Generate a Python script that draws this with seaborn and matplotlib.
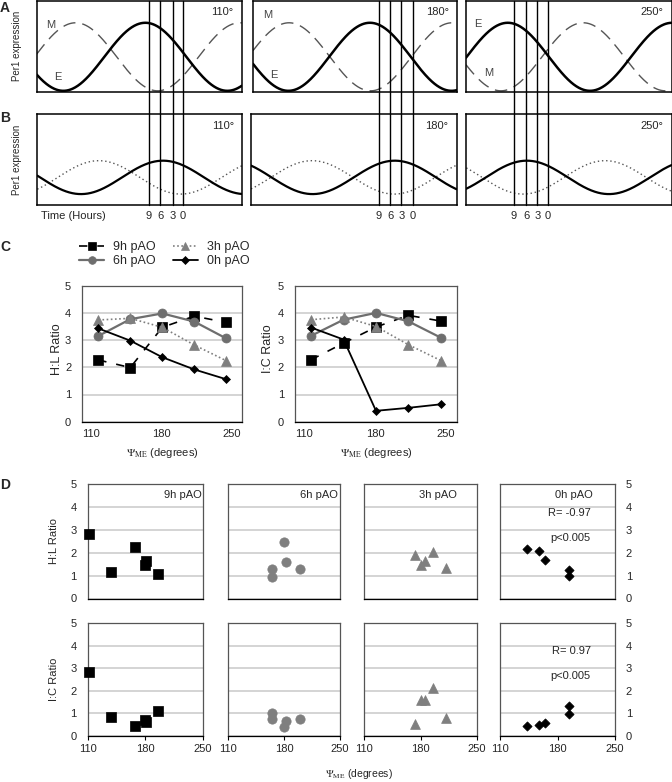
import numpy as np
import pandas as pd
import seaborn as sns
import matplotlib.pyplot as plt
from matplotlib.lines import Line2D

# ====== Data ======
# panels A/B: schematic Per1 rhythms (24 h period), peak times
PHASE_LABELS = ["110°", "180°", "250°"]
PERIOD_H = 24.0
E_PEAK_H = [15.9, 17.2, 6.1]
M_PEAK_H = [5.7, 5.3, 17.1]
B_SOLID_PEAK_H = [18.4, 21.0, 8.85]
B_DOTTED_PEAK_H = [9.0, 8.9, 20.3]
PAO_LINES_H = [[16.4, 18.1, 19.9, 21.4],
               [18.5, 20.2, 21.8, 23.5],
               [7.0, 8.8, 10.4, 11.9]]
PAO_TICK_LABELS = ["9", "6", "3", "0"]

# panel C: group means vs psi_ME
PSI_C = [117, 149, 181, 213, 245]
HL_9H = [2.27, 1.99, 3.47, 3.88, 3.65]
HL_6H = [3.15, 3.77, 3.98, 3.68, 3.06]
HL_3H = [3.74, 3.80, 3.47, 2.82, 2.24]
HL_0H = [3.43, 2.98, 2.37, 1.92, 1.56]
IC_9H = [2.28, 2.89, 3.48, 3.91, 3.70]
IC_6H = [3.16, 3.75, 4.00, 3.69, 3.09]
IC_3H = [3.75, 3.85, 3.50, 2.83, 2.25]
IC_0H = [3.46, 3.02, 0.40, 0.51, 0.64]
PAO_NAMES = ["9h pAO", "6h pAO", "3h pAO", "0h pAO"]

# panel D: individual animals
PSI_9H = [112, 139, 167, 180, 181, 195]
D_HL_9H = [2.81, 1.16, 2.23, 1.46, 1.65, 1.06]
D_IC_9H = [2.83, 0.85, 0.45, 0.68, 0.60, 1.08]
PSI_6H = [165, 165, 180, 183, 200]
D_HL_6H = [1.31, 0.95, 2.45, 1.59, 1.31]
D_IC_6H = [1.02, 0.73, 0.39, 0.65, 0.73]
PSI_3H = [173, 181, 185, 195, 211]
D_HL_3H = [1.92, 1.46, 1.63, 2.04, 1.32]
D_IC_3H = [0.52, 1.59, 1.59, 2.10, 0.77]
PSI_0H = [143, 158, 165, 194, 194]
D_HL_0H = [2.16, 2.08, 1.70, 1.26, 0.98]
D_IC_0H = [0.45, 0.47, 0.58, 1.32, 0.98]

# ====== Settings ======
W, H = 672, 782
DPI = 100
GRAY = "#7f7f7f"
GRID = "#d4d4d4"
FRAME = "#555555"

sns.set_theme(style="white")
plt.rcParams["font.family"] = ["Liberation Sans", "DejaVu Sans"]
plt.rcParams["mathtext.fontset"] = "stix"

fig = plt.figure(figsize=(W / DPI, H / DPI), dpi=DPI)


def fx(x):
    return x / W


def fy(y):
    return 1 - y / H


def add_ax(left, top, right, bottom):
    return fig.add_axes([fx(left), fy(bottom), (right - left) / W, (bottom - top) / H])


def cosine(t, peak, base, amp):
    return base + amp * np.cos(2 * np.pi * (t - peak) / PERIOD_H)


# ====== Panels A and B ======
t = np.linspace(0, 30, 400)
a_boxes = [(36.7, 241.7), (253, 457), (466, 671.5)]
b_boxes = [(37.3, 242.3), (251, 456.5), (466.3, 671.5)]
for i in range(3):
    axA = add_ax(a_boxes[i][0], 1, a_boxes[i][1], 91.5)
    sns.lineplot(x=t, y=cosine(t, M_PEAK_H[i], 0.5, 0.5), ax=axA, color="#555555",
                 lw=1.0, linestyle=(0, (9, 5)))
    sns.lineplot(x=t, y=cosine(t, E_PEAK_H[i], 0.5, 0.5), ax=axA, color="black", lw=1.8)
    axA.text(0.96, 0.93, PHASE_LABELS[i], transform=axA.transAxes, ha="right", va="top", fontsize=8)

    axB = add_ax(b_boxes[i][0], 114.3, b_boxes[i][1], 205)
    sns.lineplot(x=t, y=cosine(t, B_DOTTED_PEAK_H[i], 0.395, 0.245), ax=axB, color="#555555",
                 lw=1.0, linestyle=(0, (1, 2)))
    sns.lineplot(x=t, y=cosine(t, B_SOLID_PEAK_H[i], 0.395, 0.245), ax=axB, color="black", lw=1.6)
    axB.text(0.96, 0.93, PHASE_LABELS[i], transform=axB.transAxes, ha="right", va="top", fontsize=8)

    for ax in (axA, axB):
        ax.set_xlim(0, 30)
        ax.set_ylim(-0.01, 1.32)
        ax.set_xticks([])
        ax.set_yticks([])
        ax.set_xlabel("")
        ax.set_ylabel("")
        for s in ax.spines.values():
            s.set_color("black")
            s.set_linewidth(1.1)

    # vertical pAO lines running through A and B
    for h, lab in zip(PAO_LINES_H[i], PAO_TICK_LABELS):
        xd = axA.transData.transform((h, 0))[0]
        xf = fig.transFigure.inverted().transform((xd, 0))[0]
        fig.add_artist(Line2D([xf, xf], [fy(1), fy(205)], transform=fig.transFigure,
                              color="black", lw=1.0))
        fig.text(xf, fy(216), lab, ha="center", va="center", fontsize=8)

# E / M curve labels
for x, y, s in [(51, 25, "M"), (58, 77, "E"), (268, 15, "M"), (274, 75, "E"),
                (478, 24, "E"), (489, 73, "M")]:
    fig.text(fx(x), fy(y), s, ha="center", va="center", fontsize=8, color="#444444")

fig.text(fx(17), fy(46), "Per1 expression", rotation=90, ha="center", va="center", fontsize=7)
fig.text(fx(17), fy(160), "Per1 expression", rotation=90, ha="center", va="center", fontsize=7)
fig.text(fx(41), fy(216), "Time (Hours)", ha="left", va="center", fontsize=8)

for x, y, s in [(5, 8, "A"), (5, 118, "B"), (5, 247, "C"), (5, 485, "D")]:
    fig.text(fx(x), fy(y), s, ha="center", va="center", fontsize=10, fontweight="bold")

# ====== Panel C ======
styles = [
    dict(color="black", marker="s", markersize=6.5, linestyle=(0, (5, 6)), lw=1.2),
    dict(color="#6e6e6e", marker="o", markersize=6.5, linestyle="-", lw=1.6),
    dict(color=GRAY, marker="^", markersize=6.5, linestyle=(0, (1, 1.5)), lw=1.2),
    dict(color="black", marker="D", markersize=4.5, linestyle="-", lw=1.3),
]
c_series = [([HL_9H, HL_6H, HL_3H, HL_0H], "H:L Ratio", 82.3, 242.3, 57),
            ([IC_9H, IC_6H, IC_3H, IC_0H], "I:C Ratio", 295, 457, 268)]
handles = []
for series, ylab, left, right, ylab_x in c_series:
    ax = add_ax(left, 285.7, right, 421.7)
    for vals, name, st in zip(series, PAO_NAMES, styles):
        sns.lineplot(x=PSI_C, y=vals, ax=ax, label=name, markeredgecolor=st["color"],
                     markeredgewidth=0.5, **st)
    if ax.get_legend() is not None:
        if not handles:
            handles = ax.get_legend_handles_labels()
        ax.get_legend().remove()
    ax.set_xlim(101, 261)
    ax.set_ylim(0, 5)
    ax.set_xticks([110, 180, 250])
    ax.set_yticks([0, 1, 2, 3, 4, 5])
    ax.tick_params(length=0, labelsize=8, pad=5)
    ax.tick_params(axis="y", pad=8)
    ax.set_axisbelow(True)
    ax.yaxis.grid(True, color=GRID, lw=1.4)
    for s in ax.spines.values():
        s.set_color(FRAME)
        s.set_linewidth(0.9)
    ax.spines["bottom"].set_color("black")
    ax.set_xlabel("")
    ax.set_ylabel("")
    fig.text(fx(ylab_x), fy(349), ylab, rotation=90, ha="center", va="center", fontsize=9)
    fig.text(fx((left + right) / 2), fy(453), r"$\Psi_{\mathrm{ME}}$ (degrees)",
             ha="center", va="center", fontsize=8)

fig.legend(handles[0], handles[1], loc="upper left", bbox_to_anchor=(fx(79), fy(241)),
           ncol=2, frameon=False, fontsize=9, handlelength=2.0, handletextpad=0.7,
           columnspacing=1.4, labelspacing=0.2, borderpad=0, borderaxespad=0,
           markerscale=0.85)

# ====== Panel D ======
d_cols = [(87.5, 203), (228, 340), (364, 477), (500.2, 614.8)]
d_rows = [(484, 598.5), (623.3, 735.7)]
d_x = [PSI_9H, PSI_6H, PSI_3H, PSI_0H]
d_y = [[D_HL_9H, D_HL_6H, D_HL_3H, D_HL_0H], [D_IC_9H, D_IC_6H, D_IC_3H, D_IC_0H]]
d_marks = [("s", "black", 55), ("o", GRAY, 45), ("^", GRAY, 50), ("D", "black", 22)]
d_titles = [(0.985, "right"), (0.98, "right"), (0.65, "center"), (0.64, "center")]

for r, (top, bottom) in enumerate(d_rows):
    for c, (left, right) in enumerate(d_cols):
        ax = add_ax(left, top, right, bottom)
        m, col, size = d_marks[c]
        sns.scatterplot(x=d_x[c], y=d_y[r][c], ax=ax, marker=m, color=col, s=size,
                        edgecolor=col, linewidth=0.5, zorder=3, clip_on=False)
        ax.set_xlim(110, 250)
        ax.set_ylim(0, 5)
        ax.set_xticks([110, 180, 250])
        ax.set_yticks([0, 1, 2, 3, 4, 5])
        ax.set_axisbelow(True)
        ax.yaxis.grid(True, color=GRID, lw=1.4)
        for s in ax.spines.values():
            s.set_color(FRAME)
            s.set_linewidth(0.9)
        ax.spines["bottom"].set_color("black")
        ax.tick_params(axis="y", length=0, labelsize=8, pad=8,
                       labelleft=(c == 0), labelright=(c == 3))
        if r == 0:
            ax.tick_params(axis="x", length=0, labelbottom=False)
        else:
            ax.tick_params(axis="x", length=3, width=0.8, color="black", labelsize=8, pad=3,
                           bottom=True)
        ax.set_xlabel("")
        ax.set_ylabel("")
        if r == 0:
            xt, ha = d_titles[c]
            ax.text(xt, 0.9, PAO_NAMES[c], transform=ax.transAxes, ha=ha, va="center", fontsize=8)
        if c == 3:
            rtxt = "R= -0.97" if r == 0 else "R= 0.97"
            ax.text(0.79, 0.75, rtxt, transform=ax.transAxes, ha="right", va="center", fontsize=8)
            ax.text(0.79, 0.53, "p<0.005", transform=ax.transAxes, ha="right", va="center",
                    fontsize=8)

fig.text(fx(54), fy(541), "H:L Ratio", rotation=90, ha="center", va="center", fontsize=8)
fig.text(fx(54), fy(679), "I:C Ratio", rotation=90, ha="center", va="center", fontsize=8)
fig.text(fx(359), fy(774), r"$\Psi_{\mathrm{ME}}$ (degrees)", ha="center", va="center", fontsize=7.5)

fig.savefig("out.png", dpi=DPI)
plt.close(fig)
